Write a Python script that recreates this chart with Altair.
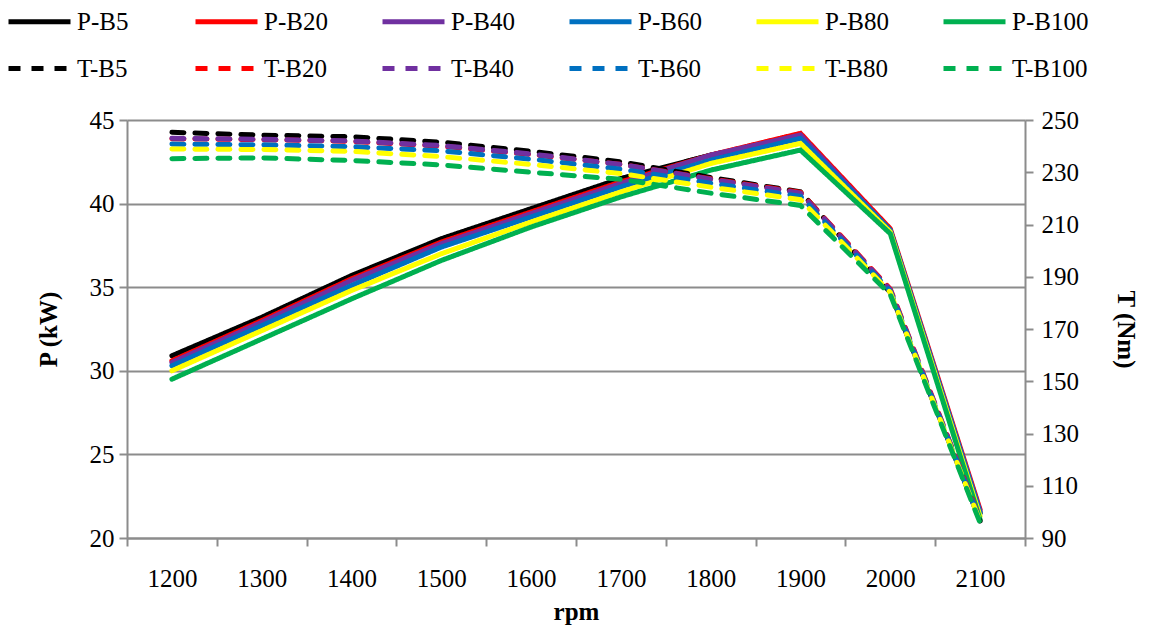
import altair as alt
import pandas as pd

rpm = [1200, 1300, 1400, 1500, 1600, 1700, 1800, 1900, 2000, 2100]

# Power (kW)
P_B5   = [30.9, 33.2, 35.7, 37.9, 39.7, 41.5, 42.9, 44.0, 38.4, 21.5]
P_B20  = [30.6, 33.0, 35.5, 37.7, 39.5, 41.3, 42.9, 44.2, 38.5, 21.7]
P_B40  = [30.5, 32.9, 35.4, 37.6, 39.4, 41.2, 42.9, 44.1, 38.4, 21.6]
P_B60  = [30.3, 32.7, 35.1, 37.4, 39.2, 41.0, 42.6, 43.9, 38.4, 21.5]
P_B80  = [30.0, 32.4, 34.8, 37.0, 38.9, 40.7, 42.4, 43.6, 38.3, 21.3]
P_B100 = [29.5, 31.9, 34.3, 36.6, 38.6, 40.4, 42.0, 43.2, 38.2, 21.1]

# Torque (Nm)
T_B5   = [245.3, 244.2, 243.6, 241.5, 238.0, 234.0, 228.0, 222.5, 184.0, 96.5]
T_B20  = [242.8, 242.5, 241.8, 240.0, 236.8, 233.0, 227.5, 222.3, 185.3, 97.0]
T_B40  = [243.0, 242.6, 242.0, 240.2, 237.0, 233.0, 227.3, 222.0, 185.0, 96.8]
T_B60  = [240.8, 240.5, 239.8, 238.2, 235.0, 231.2, 225.8, 220.8, 184.5, 96.5]
T_B80  = [238.9, 238.7, 238.0, 236.0, 233.0, 229.5, 224.3, 219.5, 184.0, 96.3]
T_B100 = [235.2, 235.5, 234.5, 232.8, 230.0, 227.3, 222.0, 217.3, 183.2, 95.8]

p_names = ["P-B5", "P-B20", "P-B40", "P-B60", "P-B80", "P-B100"]
t_names = ["T-B5", "T-B20", "T-B40", "T-B60", "T-B80", "T-B100"]
p_vals = [P_B5, P_B20, P_B40, P_B60, P_B80, P_B100]
t_vals = [T_B5, T_B20, T_B40, T_B60, T_B80, T_B100]
colors = ["#000000", "#ff0000", "#7030a0", "#0070c0", "#ffff00", "#00b050"]

rows = []
for name, vals in zip(p_names, p_vals):
    for r, v in zip(rpm, vals):
        rows.append({"series": name, "kind": "P", "rpm": r, "value": v})
for name, vals in zip(t_names, t_vals):
    for r, v in zip(rpm, vals):
        rows.append({"series": name, "kind": "T", "rpm": r, "value": v})
df = pd.DataFrame(rows)

FONT = "Liberation Serif"
GRAY = "#8c8c8c"

domain = p_names + t_names
color_scale = alt.Scale(domain=domain, range=colors + colors)
dash_scale = alt.Scale(domain=domain, range=[[1, 0]] * 6 + [[12, 11]] * 6)

x_enc = alt.X(
    "rpm:O",
    scale=alt.Scale(type="band", paddingInner=0, paddingOuter=0),
    axis=alt.Axis(
        title="rpm", tickBand="extent", labelAngle=0, tickSize=8,
        labelPadding=20, titlePadding=8,
    ),
)
color_enc = alt.Color("series:N", scale=color_scale, legend=alt.Legend(title=None))
dash_enc = alt.StrokeDash("series:N", scale=dash_scale, legend=alt.Legend(title=None))

p_layer = (
    alt.Chart(df)
    .transform_filter(alt.datum.kind == "P")
    .mark_line(strokeWidth=5, strokeCap="round", strokeJoin="miter")
    .encode(
        x=x_enc,
        y=alt.Y(
            "value:Q",
            scale=alt.Scale(domain=[20, 45], nice=False),
            axis=alt.Axis(
                title="P (kW)", values=[20, 25, 30, 35, 40, 45], grid=True,
                orient="left", tickSize=8, labelPadding=5, titlePadding=28,
            ),
        ),
        color=color_enc,
        strokeDash=dash_enc,
    )
)

t_layer = (
    alt.Chart(df)
    .transform_filter(alt.datum.kind == "T")
    .mark_line(strokeWidth=5, strokeCap="round", strokeJoin="miter")
    .encode(
        x=x_enc,
        y=alt.Y(
            "value:Q",
            scale=alt.Scale(domain=[90, 250], nice=False),
            axis=alt.Axis(
                title="T (Nm)", values=list(range(90, 251, 20)), grid=False,
                orient="right", tickSize=8, labelPadding=8, titlePadding=34,
            ),
        ),
        color=color_enc,
        strokeDash=dash_enc,
    )
)

chart = (
    alt.layer(p_layer, t_layer)
    .resolve_scale(y="independent")
    .properties(
        width=898,
        height=418,
        autosize=alt.AutoSizeParams(type="none"),
        padding={"left": 127, "top": 120, "right": 141, "bottom": 92},
    )
    .configure_view(stroke=None)
    .configure_axis(
        labelFont=FONT, labelFontSize=25, labelColor="#000000",
        titleFont=FONT, titleFontSize=25, titleFontWeight="bold", titleColor="#000000",
        domainColor=GRAY, domainWidth=2, tickColor=GRAY, tickWidth=2,
        gridColor=GRAY, gridWidth=2,
    )
    .configure_legend(
        orient="none", legendX=-121, legendY=-132, columns=6, direction="horizontal",
        symbolType="stroke", symbolSize=3844, symbolStrokeWidth=5,
        labelFont=FONT, labelFontSize=25, labelColor="#000000", labelOffset=4,
        gridAlign="all", columnPadding=31, rowPadding=-1, labelLimit=200,
    )
)

chart.save("out.html", embed_options={"renderer": "svg", "actions": False})
